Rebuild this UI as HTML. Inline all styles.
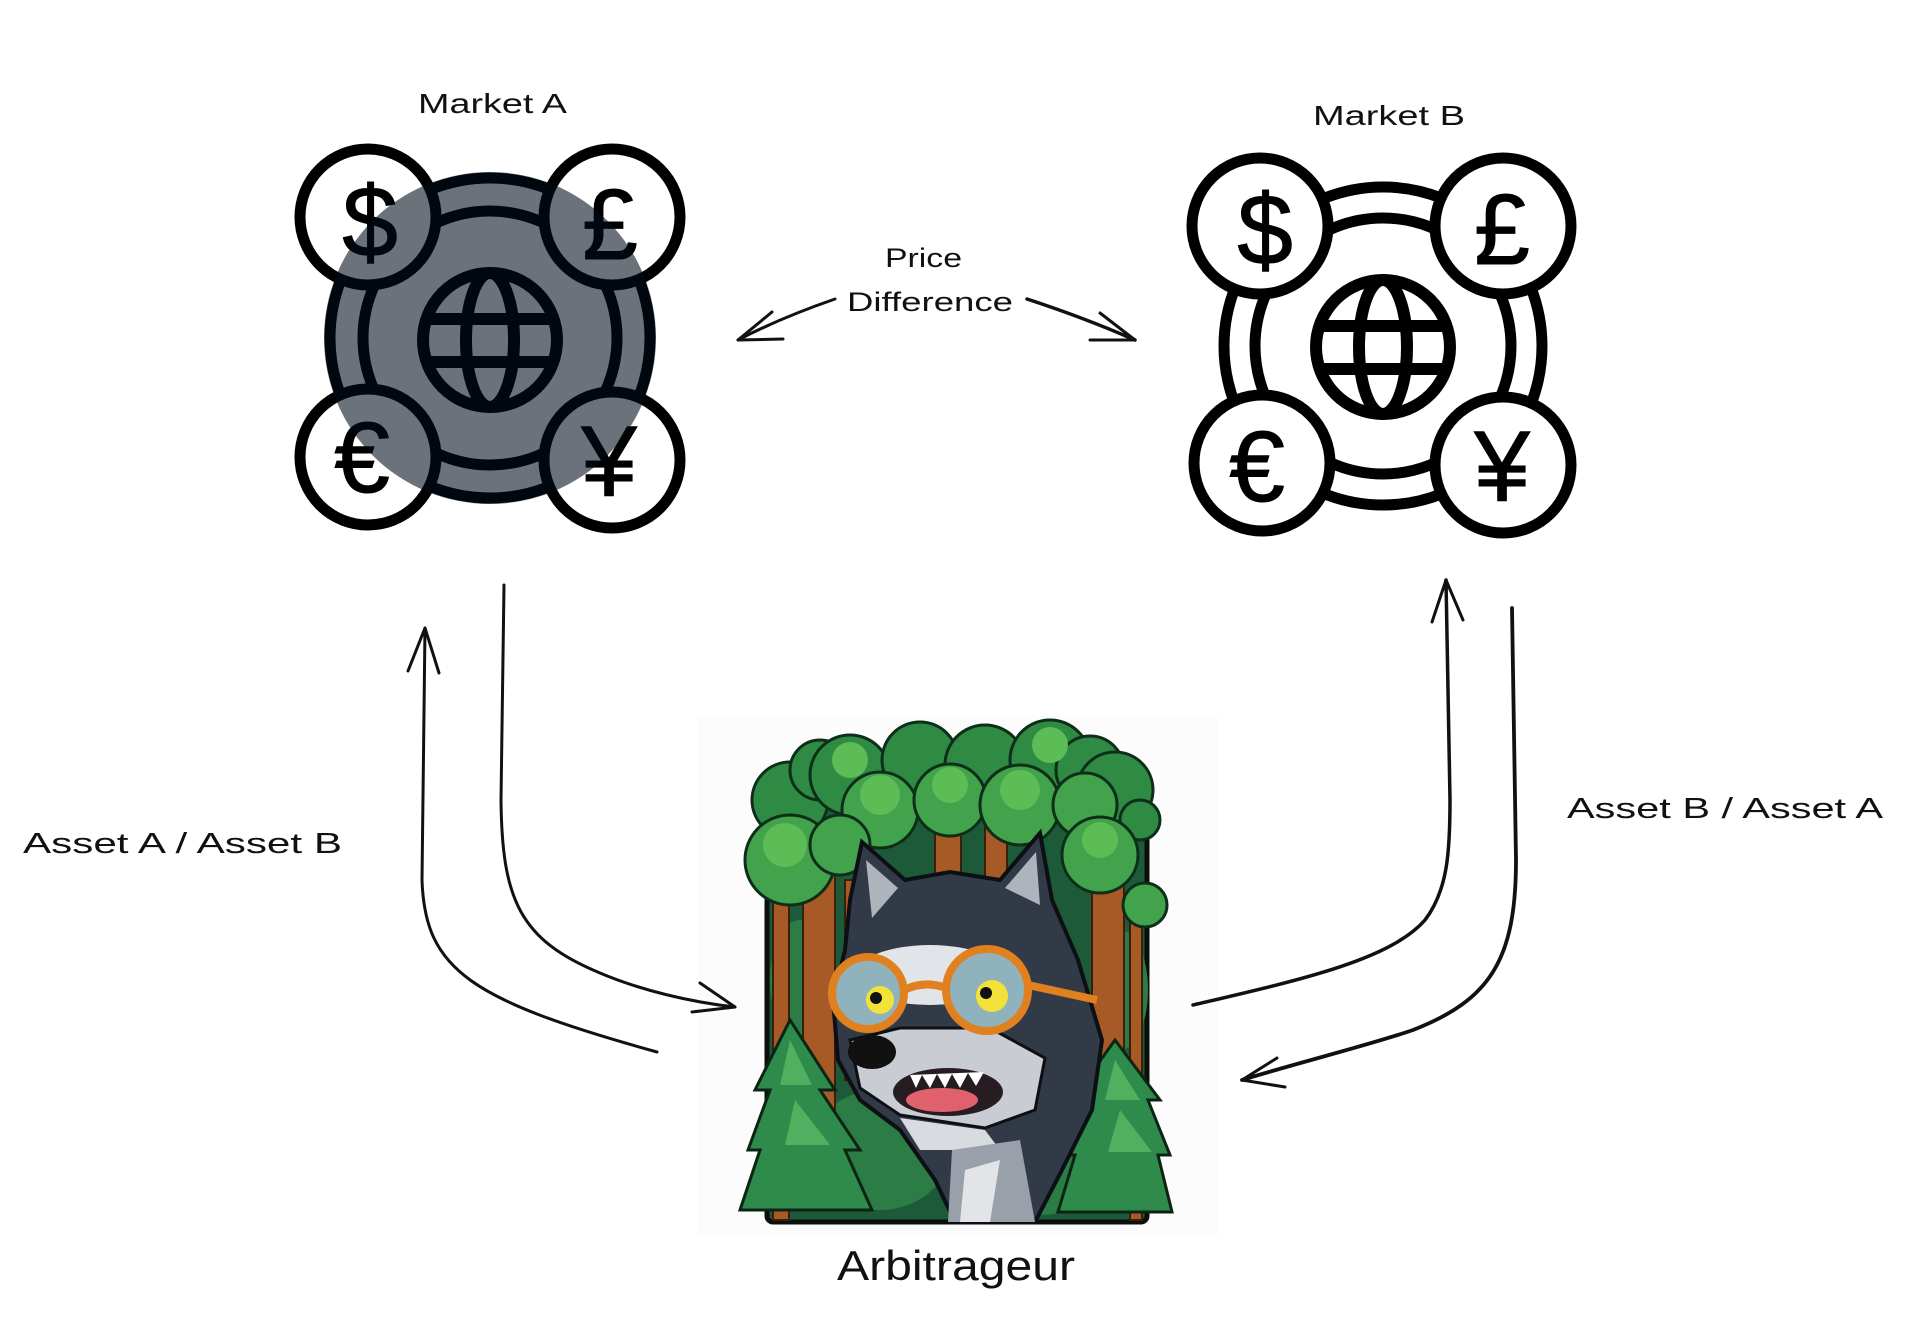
<!DOCTYPE html>
<html><head><meta charset="utf-8"><style>
html,body{margin:0;padding:0;background:#fff;}
svg{display:block;}
text{font-family:"Liberation Sans","DejaVu Sans",sans-serif;fill:#111;}
</style></head><body>
<svg width="1920" height="1320" viewBox="0 0 1920 1320" xmlns="http://www.w3.org/2000/svg">
<rect width="1920" height="1320" fill="#fff"/>
<rect x="698" y="716" width="520" height="521" fill="#fcfcfc"/>

<!-- Labels -->
<text x="418" y="113" font-size="28" textLength="149" lengthAdjust="spacingAndGlyphs">Market A</text>
<text x="1313" y="125" font-size="28" textLength="152" lengthAdjust="spacingAndGlyphs">Market B</text>
<text x="885" y="267" font-size="27" textLength="77" lengthAdjust="spacingAndGlyphs">Price</text>
<text x="847" y="311" font-size="27" textLength="166" lengthAdjust="spacingAndGlyphs">Difference</text>
<text x="23" y="853" font-size="29" textLength="319" lengthAdjust="spacingAndGlyphs">Asset A / Asset B</text>
<text x="1567" y="818" font-size="29" textLength="316" lengthAdjust="spacingAndGlyphs">Asset B / Asset A</text>
<text x="837" y="1280" font-size="42" textLength="238" lengthAdjust="spacingAndGlyphs">Arbitrageur</text>

<!-- Market A icon -->
<g stroke="#000" stroke-width="11" fill="none">
  <circle cx="490" cy="338" r="160"/>
  <circle cx="490" cy="338" r="127"/>
  <g fill="#fff">
    <circle cx="368" cy="217" r="68"/>
    <circle cx="612" cy="217" r="68"/>
    <circle cx="368" cy="457" r="68"/>
    <circle cx="612" cy="460" r="68"/>
  </g>
  <g stroke-width="12">
    <circle cx="490" cy="340" r="67"/>
    <ellipse cx="490" cy="340" rx="24" ry="67"/>
    <line x1="426" y1="319" x2="554" y2="319"/>
    <line x1="426" y1="362" x2="554" y2="362"/>
  </g>
</g>
<g font-size="100" text-anchor="middle" stroke="#000" stroke-width="1">
  <text x="370" y="256" style="fill:#000">$</text>
  <text x="610" y="259" style="fill:#000">£</text>
  <text x="362" y="492" style="fill:#000">€</text>
  <text x="609" y="496" style="fill:#000">¥</text>
</g>
<circle cx="490" cy="338" r="166" fill="rgb(2,12,26)" fill-opacity="0.58"/>

<!-- Market B icon -->
<g stroke="#000" stroke-width="11" fill="none">
  <circle cx="1383" cy="346" r="159"/>
  <circle cx="1383" cy="346" r="128"/>
  <g fill="#fff">
    <circle cx="1260" cy="226" r="68"/>
    <circle cx="1503" cy="226" r="68"/>
    <circle cx="1262" cy="463" r="68"/>
    <circle cx="1503" cy="465" r="68"/>
  </g>
  <g stroke-width="12">
    <circle cx="1383" cy="347" r="67"/>
    <ellipse cx="1383" cy="347" rx="24" ry="67"/>
    <line x1="1319" y1="326" x2="1447" y2="326"/>
    <line x1="1319" y1="369" x2="1447" y2="369"/>
  </g>
</g>
<g font-size="100" text-anchor="middle" stroke="#000" stroke-width="1">
  <text x="1265" y="264" style="fill:#000">$</text>
  <text x="1502" y="264" style="fill:#000">£</text>
  <text x="1257" y="501" style="fill:#000">€</text>
  <text x="1502" y="501" style="fill:#000">¥</text>
</g>

<!-- Arbitrageur illustration -->
<g>
  <rect x="767" y="790" width="380" height="432" rx="6" fill="#1d5a3a" stroke="#0a0f0c" stroke-width="5"/>
  <g fill="#2c7d45">
    <ellipse cx="880" cy="1150" rx="70" ry="60"/>
    <ellipse cx="1040" cy="1160" rx="70" ry="55"/>
    <ellipse cx="800" cy="980" rx="30" ry="60"/>
    <ellipse cx="1120" cy="990" rx="28" ry="60"/>
  </g>
  <g fill="#a85a26" stroke="#3a1f0c" stroke-width="2">
    <rect x="773" y="880" width="16" height="340"/>
    <rect x="803" y="865" width="32" height="290"/>
    <rect x="845" y="880" width="12" height="200"/>
    <rect x="935" y="815" width="26" height="90"/>
    <rect x="985" y="815" width="22" height="70"/>
    <rect x="1092" y="860" width="32" height="250"/>
    <rect x="1130" y="900" width="12" height="320"/>
  </g>
  <g stroke="#0d2e18" stroke-width="3">
    <g fill="#2f8a43">
      <circle cx="790" cy="800" r="38"/>
      <circle cx="820" cy="770" r="30"/>
      <circle cx="850" cy="775" r="40"/>
      <circle cx="920" cy="760" r="38"/>
      <circle cx="985" cy="765" r="40"/>
      <circle cx="1050" cy="760" r="40"/>
      <circle cx="1090" cy="770" r="34"/>
      <circle cx="1115" cy="790" r="38"/>
      <circle cx="1140" cy="820" r="20"/>
    </g>
    <g fill="#43a34c">
      <circle cx="880" cy="810" r="38"/>
      <circle cx="950" cy="800" r="36"/>
      <circle cx="1020" cy="805" r="40"/>
      <circle cx="1085" cy="805" r="32"/>
      <circle cx="790" cy="860" r="45"/>
      <circle cx="840" cy="845" r="30"/>
      <circle cx="1100" cy="855" r="38"/>
      <circle cx="1145" cy="905" r="22"/>
    </g>
  </g>
  <g fill="#5cbc56">
    <circle cx="785" cy="845" r="22"/>
    <circle cx="880" cy="795" r="20"/>
    <circle cx="950" cy="785" r="18"/>
    <circle cx="1020" cy="790" r="20"/>
    <circle cx="1100" cy="840" r="18"/>
    <circle cx="850" cy="760" r="18"/>
    <circle cx="1050" cy="745" r="18"/>
  </g>
  <g stroke="#0b2414" stroke-width="3" fill="#2e8b4c">
    <polygon points="790,1020 835,1090 820,1090 860,1150 845,1150 872,1210 740,1210 760,1150 748,1150 770,1090 755,1090"/>
    <polygon points="1115,1040 1160,1100 1148,1100 1170,1155 1158,1155 1172,1212 1058,1212 1075,1155 1062,1155 1085,1100 1072,1100"/>
  </g>
  <g fill="#4fb060">
    <polygon points="790,1040 812,1085 780,1085"/>
    <polygon points="795,1100 830,1145 785,1145"/>
    <polygon points="1115,1060 1140,1100 1105,1100"/>
    <polygon points="1120,1110 1152,1152 1108,1152"/>
  </g>
  <polygon points="850,900 862,842 905,880 950,872 1000,880 1040,833 1052,900 1078,960 1102,1040 1092,1110 1062,1170 1035,1222 955,1222 935,1180 900,1130 860,1100 838,1060 833,1000 845,950" fill="#323a47" stroke="#0c0f14" stroke-width="4"/>
  <polygon points="866,860 898,888 872,918" fill="#aeb4bc"/>
  <polygon points="1036,852 1040,905 1005,888" fill="#aeb4bc"/>
  <ellipse cx="930" cy="975" rx="75" ry="30" fill="#e1e4e8"/>
  <polygon points="850,1040 900,1028 990,1028 1045,1058 1035,1110 985,1128 900,1115 860,1088" fill="#c9cdd3" stroke="#0c0f14" stroke-width="3"/>
  <ellipse cx="948" cy="1092" rx="55" ry="24" fill="#261c22"/>
  <ellipse cx="942" cy="1100" rx="36" ry="12" fill="#e0606e"/>
  <polygon points="910,1075 916,1088 922,1075 930,1088 937,1074 945,1088 952,1074 960,1088 968,1073 976,1086 984,1072" fill="#fff"/>
  <polygon points="900,1118 985,1130 1000,1150 920,1150" fill="#d8dbe0"/>
  <polygon points="952,1150 1020,1140 1035,1222 948,1222" fill="#9aa0a9"/>
  <polygon points="965,1170 1000,1160 990,1222 960,1222" fill="#e2e4e7"/>
  <ellipse cx="872" cy="1052" rx="24" ry="17" fill="#111"/>
  <g stroke="#e0801f" stroke-width="8">
    <circle cx="868" cy="993" r="36" fill="#8fb2bc"/>
    <circle cx="987" cy="990" r="41" fill="#8fb2bc"/>
    <path d="M904,990 Q925,980 946,988" fill="none"/>
    <line x1="1028" y1="985" x2="1097" y2="1000"/>
  </g>
  <circle cx="880" cy="1000" r="14" fill="#f2e23a"/>
  <circle cx="992" cy="996" r="16" fill="#f2e23a"/>
  <circle cx="876" cy="998" r="6" fill="#111"/>
  <circle cx="986" cy="993" r="6" fill="#111"/>
</g>

<!-- Arrows -->
<g stroke="#111" stroke-width="3" fill="none" stroke-linecap="round" stroke-linejoin="round">
  <path d="M835,299 Q780,318 738,340"/>
  <path d="M772,312 L738,340 L783,339"/>
  <path d="M1027,299 Q1085,318 1135,340" stroke-width="3.5"/>
  <path d="M1100,313 L1135,340 L1090,340"/>
  <path d="M657,1052 C470,1000 425,970 422,880 L425,628"/>
  <path d="M408,671 L425,628 L439,673"/>
  <path d="M504,585 L501,800 C502,900 520,940 600,973 C640,990 690,1002 735,1007"/>
  <path d="M700,983 L735,1007 L692,1012"/>
  <path d="M1193,1005 C1300,980 1390,960 1425,920 C1448,890 1450,850 1450,800 L1446,580" stroke-width="3.5"/>
  <path d="M1432,622 L1446,580 L1463,620"/>
  <path d="M1512,608 L1516,860 C1516,960 1490,1000 1413,1030 C1370,1045 1300,1062 1242,1080" stroke-width="3.8"/>
  <path d="M1277,1058 L1242,1080 L1285,1087"/>
</g>
</svg>
</body></html>
